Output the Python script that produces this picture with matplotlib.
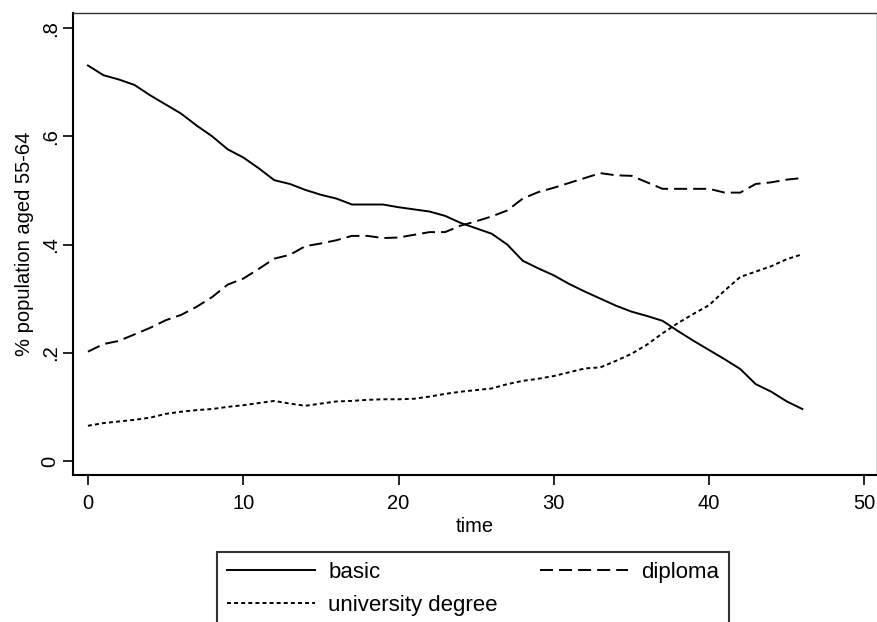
import numpy as np
import matplotlib
matplotlib.use('Agg')
import matplotlib.pyplot as plt

plt.rcParams['font.family'] = ['Liberation Sans', 'DejaVu Sans']

# share of population aged 55-64 by education, time 0..46
time = np.arange(47)
basic = [0.731, 0.713, 0.705, 0.695, 0.676, 0.659, 0.642, 0.62, 0.6, 0.576, 0.561, 0.541,
         0.519, 0.512, 0.501, 0.492, 0.485, 0.474, 0.474, 0.474, 0.469, 0.465, 0.461, 0.453,
         0.44, 0.43, 0.42, 0.40, 0.37, 0.356, 0.343, 0.327, 0.313, 0.3, 0.287, 0.276,
         0.268, 0.259, 0.24, 0.222, 0.205, 0.188, 0.17, 0.142, 0.128, 0.11, 0.096]
diploma = [0.202, 0.216, 0.222, 0.234, 0.246, 0.26, 0.27, 0.285, 0.303, 0.326, 0.337, 0.355,
           0.374, 0.381, 0.397, 0.402, 0.408, 0.416, 0.416, 0.412, 0.413, 0.418, 0.423, 0.423,
           0.435, 0.443, 0.452, 0.463, 0.485, 0.497, 0.505, 0.514, 0.523, 0.532, 0.528, 0.527,
           0.515, 0.503, 0.503, 0.503, 0.503, 0.496, 0.496, 0.512, 0.515, 0.52, 0.523]
university = [0.065, 0.07, 0.073, 0.076, 0.08, 0.087, 0.091, 0.094, 0.096, 0.1, 0.103, 0.107,
              0.111, 0.106, 0.102, 0.106, 0.11, 0.111, 0.113, 0.114, 0.114, 0.115, 0.119, 0.124,
              0.128, 0.131, 0.134, 0.142, 0.148, 0.152, 0.157, 0.164, 0.171, 0.173, 0.185, 0.198,
              0.215, 0.236, 0.255, 0.272, 0.288, 0.315, 0.34, 0.35, 0.36, 0.373, 0.382]

xticks = [0, 10, 20, 30, 40, 50]
yticks = [0, 0.2, 0.4, 0.6, 0.8]
ytick_labels = ['0', '.2', '.4', '.6', '.8']

fs = 14.5
fig = plt.figure(figsize=(8.78, 6.22), dpi=100)
ax = fig.add_axes([0.083, 0.2363, 0.9157, 0.7428])

l1, = ax.plot(time, basic, color='black', lw=1.4, label='basic')
l2, = ax.plot(time, diploma, color='black', lw=1.4, linestyle=(0, (6.7, 3.1)), label='diploma')
l3, = ax.plot(time, university, color='black', lw=1.4, linestyle=(0, (2.05, 1.6)),
              label='university degree')

ax.set_xlim(-0.97, 50.8)
ax.set_ylim(-0.026, 0.828)
ax.set_xticks(xticks)
ax.set_yticks(yticks)
ax.set_yticklabels(ytick_labels, rotation=90, va='center')
ax.tick_params(axis='both', direction='out', length=7.5, width=1.2, labelsize=fs, color='black')
ax.tick_params(axis='x', pad=6)
ax.tick_params(axis='y', pad=2)

for side in ['left', 'bottom']:
    ax.spines[side].set_linewidth(1.5)
for side in ['top', 'right']:
    ax.spines[side].set_linewidth(1.0)
    ax.spines[side].set_color('#333333')

ax.set_xlabel('time', fontsize=fs, labelpad=3)
ax.set_ylabel('% population aged 55-64', fontsize=fs, labelpad=5)

leg = fig.legend([l1, l3, l2], ['basic', 'university degree', 'diploma'], ncol=2,
                 loc='upper left', bbox_to_anchor=(217 / 878, 1 - 552 / 622),
                 fontsize=16, frameon=True, fancybox=False,
                 handlelength=3.95, handletextpad=0.6, labelspacing=0.55,
                 columnspacing=1.9, borderpad=0.45, borderaxespad=0)
leg.get_frame().set_edgecolor('black')
leg.get_frame().set_linewidth(1.5)

fig.savefig('out.png', dpi=100)
